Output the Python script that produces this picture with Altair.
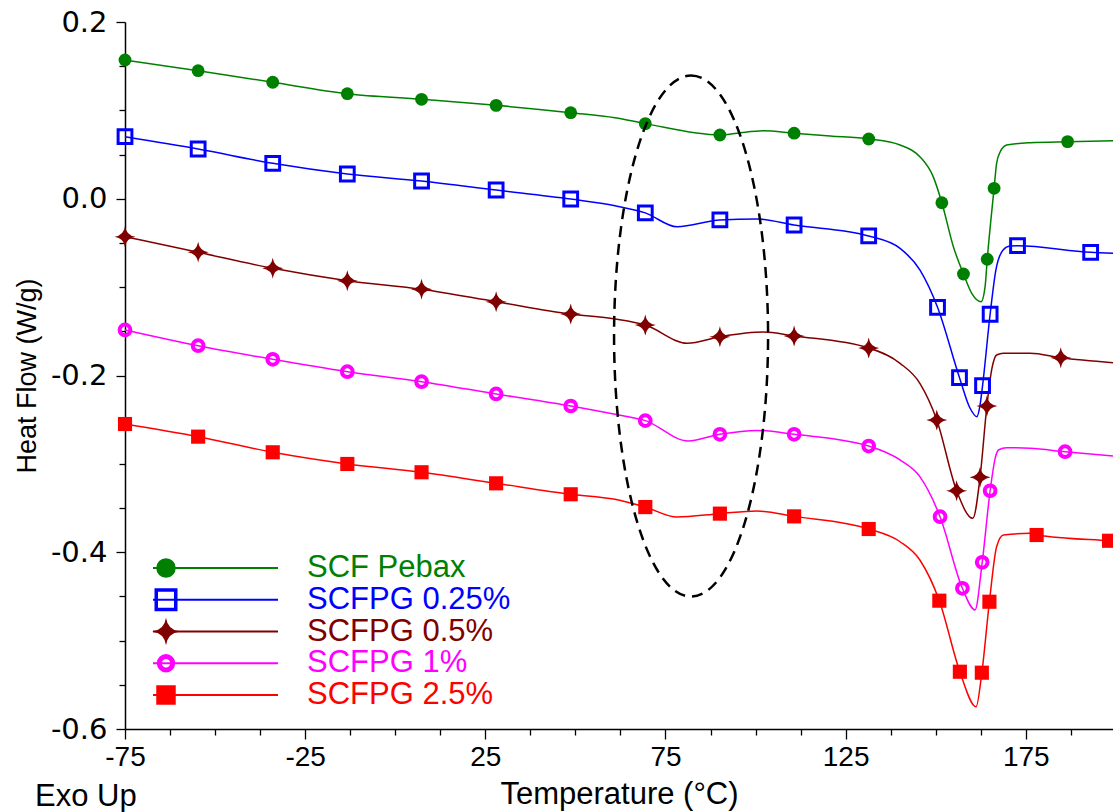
import altair as alt
import pandas as pd

names = ["SCF Pebax", "SCFPG 0.25%", "SCFPG 0.5%", "SCFPG 1%", "SCFPG 2.5%"]
colors = ["#008000", "#0000FF", "#800000", "#FF00FF", "#FF0000"]

# ---- curves (Temperature in °C, Heat Flow in W/g) ----
green_T = [-75, -54.7, -34.0, -13.3, 7.3, 28.0, 48.7, 61.0, 69.4, 90.1, 94.9, 102.1, 110.7, 120.7, 131.4,
           140.1, 145.6, 149.3, 151.7, 154.9, 157.7, 160.0, 162.6, 163.7, 164.3, 166.2, 166.9, 167.9, 169.7,
           176.2, 186.6, 199.2]
green_HF = [0.157, 0.1449, 0.1318, 0.1189, 0.1125, 0.1057, 0.0974, 0.0917, 0.085, 0.0721, 0.0742, 0.077,
            0.0742, 0.071, 0.0676, 0.0608, 0.0476, 0.025, -0.0045, -0.0543, -0.0851, -0.107, -0.1165,
            -0.0995, -0.0685, 0.0118, 0.0401, 0.0532, 0.0608, 0.0634, 0.0646, 0.0657]

blue_T = [-75, -54.7, -34.0, -13.3, 7.3, 28.0, 48.7, 61.0, 69.4, 78.2, 90.1, 100.4, 110.7, 131.4, 140.1,
          145.6, 150.5, 156.6, 159.5, 161.4, 162.3, 163.0, 165.1, 166.7, 168.7, 170.6, 172.7, 193.0, 199.2]
blue_HF = [0.0702, 0.0563, 0.0401, 0.028, 0.0201, 0.0099, -0.0003, -0.0079, -0.016, -0.0317, -0.024,
           -0.0228, -0.0297, -0.0421, -0.0561, -0.0806, -0.1228, -0.2025, -0.2368, -0.2466, -0.2334,
           -0.2115, -0.1307, -0.0806, -0.058, -0.0535, -0.0531, -0.0606, -0.0617]

brown_T = [-75, -54.7, -34.0, -13.3, 7.3, 28.0, 48.7, 61.0, 69.4, 81.0, 90.1, 102.1, 110.7, 131.4, 140.1,
           145.6, 150.3, 155.8, 160.3, 162.3, 164.2, 165.6, 166.9, 168.8, 176.2, 184.7, 199.2]
brown_HF = [-0.0429, -0.0606, -0.0787, -0.0927, -0.1025, -0.1165, -0.1304, -0.1361, -0.1429, -0.1635,
            -0.1562, -0.1509, -0.1553, -0.1689, -0.1862, -0.2088, -0.2503, -0.3304, -0.3616, -0.3152,
            -0.2345, -0.192, -0.1768, -0.1749, -0.1749, -0.1799, -0.1855]

mag_T = [-75, -54.7, -34.0, -13.3, 7.3, 28.0, 48.7, 61.0, 69.4, 81.3, 90.1, 100.4, 110.7, 131.4, 140.1,
         145.6, 151.2, 157.4, 160.9, 162.9, 165.1, 166.5, 167.4, 169.7, 176.2, 185.9, 199.2]
mag_HF = [-0.1485, -0.1663, -0.1817, -0.1957, -0.207, -0.2209, -0.2345, -0.2439, -0.2511, -0.2741,
          -0.2665, -0.2621, -0.2665, -0.2798, -0.2956, -0.3145, -0.3598, -0.4408, -0.4653, -0.4114,
          -0.3304, -0.2937, -0.2843, -0.2817, -0.2824, -0.2862, -0.2911]

red_T = [-75, -54.7, -34.0, -13.3, 7.3, 28.0, 48.7, 61.0, 69.4, 78.2, 90.1, 100.4, 110.7, 131.4, 140.1,
         145.6, 151.0, 156.7, 161.2, 162.8, 164.9, 166.9, 168.8, 176.2, 178.0, 198.1, 199.2]
red_HF = [-0.2549, -0.2692, -0.2869, -0.3001, -0.3095, -0.322, -0.3344, -0.3401, -0.3489, -0.3602,
          -0.3563, -0.3533, -0.3594, -0.3737, -0.3881, -0.4088, -0.4548, -0.5352, -0.5748, -0.5363,
          -0.456, -0.3937, -0.3805, -0.3786, -0.3805, -0.387, -0.3873]

# ---- marker positions ----
base_mT = [-75, -54.7, -34.0, -13.3, 7.3, 28.0, 48.7, 69.4, 90.1, 110.7, 131.4]
green_mT = base_mT + [151.7, 157.7, 164.3, 166.2, 186.6]
green_mHF = [0.157, 0.1449, 0.1318, 0.1189, 0.1125, 0.1057, 0.0974, 0.085, 0.0721, 0.0742, 0.0676,
             -0.0045, -0.0851, -0.0685, 0.0118, 0.0646]
blue_mT = base_mT + [150.5, 156.6, 163.0, 165.1, 172.7, 193.0]
blue_mHF = [0.0702, 0.0563, 0.0401, 0.028, 0.0201, 0.0099, -0.0003, -0.016, -0.024, -0.0297, -0.0421,
            -0.1228, -0.2025, -0.2115, -0.1307, -0.0531, -0.0606]
brown_mT = base_mT + [150.3, 155.8, 162.3, 164.2, 184.7]
brown_mHF = [-0.0429, -0.0606, -0.0787, -0.0927, -0.1025, -0.1165, -0.1304, -0.1429, -0.1562, -0.1553,
             -0.1689, -0.2503, -0.3304, -0.3152, -0.2345, -0.1799]
mag_mT = base_mT + [151.2, 157.4, 162.9, 165.1, 185.9]
mag_mHF = [-0.1485, -0.1663, -0.1817, -0.1957, -0.207, -0.2209, -0.2345, -0.2511, -0.2665, -0.2665,
           -0.2798, -0.3598, -0.4408, -0.4114, -0.3304, -0.2862]
red_mT = base_mT + [151.0, 156.7, 162.8, 164.9, 178.0, 198.1]
red_mHF = [-0.2549, -0.2692, -0.2869, -0.3001, -0.3095, -0.322, -0.3344, -0.3489, -0.3563, -0.3594,
           -0.3737, -0.4548, -0.5352, -0.5363, -0.456, -0.3805, -0.387]

# dashed ellipse annotation (centre, in data units)
ellipse_T = [82.1]
ellipse_HF = [-0.1553]

x_domain = [-75, 199.2]
y_domain = [-0.6, 0.2]
x_ticks = [-75 + 12.5 * i for i in range(22)]
y_ticks = [round(-0.6 + 0.05 * i, 2) for i in range(17)]

curves_T = [green_T, blue_T, brown_T, mag_T, red_T]
curves_HF = [green_HF, blue_HF, brown_HF, mag_HF, red_HF]
marks_T = [green_mT, blue_mT, brown_mT, mag_mT, red_mT]
marks_HF = [green_mHF, blue_mHF, brown_mHF, mag_mHF, red_mHF]

line_rows = []
for i, n in enumerate(names):
    for t, h in zip(curves_T[i], curves_HF[i]):
        line_rows.append({"series": n, "T": t, "HF": h, "order": i})
line_df = pd.DataFrame(line_rows)

STAR = "M0,-1 Q0.12,-0.12 1,0 Q0.12,0.12 0,1 Q-0.12,0.12 -1,0 Q-0.12,-0.12 0,-1 Z"
ELL = "M0,-1 A0.2956,1 0 1,1 0,1 A0.2956,1 0 1,1 0,-1 Z"

styles = [
    dict(shape="circle", filled=True, size=165, sw=0.5, lsize=380, lsw=0.5),
    dict(shape="square", filled=False, size=190, sw=3, lsize=380, lsw=3.5),
    dict(shape=STAR, filled=True, size=440, sw=0.5, lsize=760, lsw=0.5),
    dict(shape="circle", filled=False, size=115, sw=4, lsize=180, lsw=5),
    dict(shape="square", filled=True, size=200, sw=0.5, lsize=380, lsw=0.5),
]

color_scale = alt.Scale(domain=names, range=colors)

major_x = "(datum.value + 75) % 50 === 0"
major_y = "abs(datum.value * 5 - round(datum.value * 5)) < 0.001"

x_enc = alt.X(
    "T:Q",
    scale=alt.Scale(domain=x_domain, nice=False, zero=False),
    axis=alt.Axis(
        values=x_ticks,
        title="Temperature (°C)",
        labelExpr=f"{major_x} ? replace(format(datum.value, 'd'), '\u2212', '-') : ''",
        tickSize={"condition": {"test": major_x, "value": 10}, "value": 6},
        labelFont="Liberation Sans", labelFontSize=28, labelColor="black",
        labelPadding=4, labelOverlap=False, labelFlush=False,
        titleFont="Liberation Sans", titleFontSize=31, titleFontWeight="normal",
        titleColor="black", titlePadding=8,
        domainColor="black", domainWidth=1.5, tickColor="black", tickWidth=1.3,
        grid=False,
    ),
)
y_enc = alt.Y(
    "HF:Q",
    scale=alt.Scale(domain=y_domain, nice=False, zero=False),
    axis=alt.Axis(
        values=y_ticks,
        title="Heat Flow (W/g)",
        labelExpr=f"{major_y} ? replace(format(datum.value, '.1f'), '\u2212', '-') : ''",
        tickSize={"condition": {"test": major_y, "value": 9}, "value": 6},
        labelFont="DejaVu Sans", labelFontSize=29, labelColor="black",
        labelPadding=9, labelOverlap=False, labelFlush=False,
        titleFont="Liberation Sans", titleFontSize=27, titleFontWeight="normal",
        titleColor="black", titlePadding=9,
        domainColor="black", domainWidth=1.5, tickColor="black", tickWidth=1.3,
        grid=False,
    ),
)

lines = alt.Chart(line_df).mark_line(strokeWidth=1.5, interpolate="monotone").encode(
    x=x_enc, y=y_enc,
    color=alt.Color("series:N", scale=color_scale, legend=None),
    detail="series:N",
    order="T:Q",
)

marker_layers = []
for i, n in enumerate(names):
    st = styles[i]
    df = pd.DataFrame({"series": n, "T": marks_T[i], "HF": marks_HF[i]})
    m = alt.Chart(df).mark_point(
        shape=st["shape"], filled=st["filled"], size=st["size"], strokeWidth=st["sw"], opacity=1,
    ).encode(
        x=x_enc, y=y_enc,
        color=alt.Color("series:N", scale=color_scale, legend=None),
    )
    marker_layers.append(m)

ell_df = pd.DataFrame({"T": ellipse_T, "HF": ellipse_HF})
ellipse = alt.Chart(ell_df).mark_point(
    shape=ELL, size=521 * 521, filled=False, color="black", strokeWidth=2.5,
    strokeDash=[11, 7], opacity=1,
).encode(x=x_enc, y=y_enc)

exo_df = pd.DataFrame({"label": ["Exo Up"]})
exo = alt.Chart(exo_df).mark_text(
    align="left", baseline="middle", font="Liberation Sans", fontSize=31, color="black",
).encode(x=alt.value(-90), y=alt.value(775), text="label:N")

main = alt.layer(lines, *marker_layers, ellipse, exo)

# ---- legend drawn inside the plot ----
leg_df = pd.DataFrame({"series": names, "row": list(range(len(names)))})
leg_y = alt.Y("row:Q", scale=alt.Scale(domain=[0, 4], range=[546, 673]), axis=None)
leg_color = alt.Color("series:N", scale=color_scale, legend=None)

leg_lines = alt.Chart(leg_df).mark_rule(strokeWidth=2).encode(
    x=alt.value(28), x2=alt.value(153), y=leg_y, color=leg_color,
)
leg_marks = []
for i, n in enumerate(names):
    st = styles[i]
    leg_marks.append(
        alt.Chart(leg_df[leg_df["series"] == n]).mark_point(
            shape=st["shape"], filled=st["filled"], size=st["lsize"], strokeWidth=st["lsw"], opacity=1,
        ).encode(x=alt.value(41), y=leg_y, color=leg_color)
    )
leg_text = alt.Chart(leg_df).mark_text(
    align="left", baseline="middle", font="Liberation Sans", fontSize=31,
).encode(x=alt.value(182), y=leg_y, text="series:N", color=leg_color)

legend = alt.layer(leg_lines, *leg_marks, leg_text)

chart = alt.layer(main, legend).resolve_scale(y="independent").properties(
    width=988,
    height=707,
    padding={"left": 125, "top": 22, "right": 0, "bottom": 83},
    autosize=alt.AutoSizeParams(type="none"),
    background="white",
).configure_view(strokeWidth=0)

chart.save("out.html", embed_options={"renderer": "svg", "actions": False})
